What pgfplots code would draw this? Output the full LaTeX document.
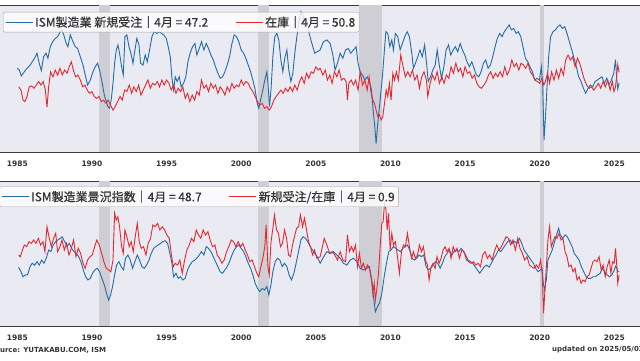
\documentclass[border=0pt]{standalone}
\usepackage{pgfplots}
\pgfplotsset{compat=1.18}
\usepackage{fontspec}
\setmainfont{DejaVu Sans}
\newfontfamily\jp[RawFeature={embolden=0.4}]{Noto Sans CJK JP}
\definecolor{bg}{RGB}{234,234,242}
\definecolor{rec}{RGB}{206,206,212}
\definecolor{sblue}{RGB}{34,108,168}
\definecolor{sred}{RGB}{228,40,48}
\definecolor{txt}{RGB}{51,51,51}
\definecolor{spine}{RGB}{60,60,60}
\pgfplotsset{
  base/.style={scale only axis, width=680pt, xmin=1982.50, xmax=2028.06,
    axis background/.style={fill=bg},
    axis line style={spine, line width=1pt},
    axis x line*=box, axis y line=none,
    xtick={1985,1990,1995,2000,2005,2010,2015,2020,2025},
    ytick=\empty,
    major tick length=0pt,
    xticklabel style={font=\fontsize{7.5}{8}\selectfont\bfseries, text=txt, /pgf/number format/1000 sep={}, yshift=-5pt},
    /pgf/number format/assume math mode=true,
    legend style={draw=gray!70, fill=white, fill opacity=0.8, text opacity=1, rounded corners=2pt,
      font=\jp\fontsize{12}{14}\selectfont, text=txt, legend columns=2, inner xsep=2pt, inner ysep=2pt,
      /tikz/every even column/.append style={column sep=25pt}},
    legend image code/.code={\draw[#1, line width=1pt, sharp corners] (0pt,0pt) -- (22pt,0pt); \path (0pt,0pt) -- (27pt,0pt);},
  },
  blu/.style={sblue, line width=0.9pt},
  rd/.style={sred, line width=0.9pt},
}
\begin{document}
\begin{tikzpicture}
\useasboundingbox (0,0) rectangle (640pt,360pt);
\clip (0,0) rectangle (640pt,360pt);
% ---------------- top panel ----------------
\begin{axis}[base, at={(-20pt,208pt)}, anchor=south west, height=147pt, ymin=23.81, ymax=73.64,
  legend style={at={(0.558,0.953)}, anchor=north east}]
\addplot[fill=rec, draw=none, forget plot] coordinates {(1990.47,23.81) (1990.47,73.64) (1991.21,73.64) (1991.21,23.81)} -- cycle;
\addplot[fill=rec, draw=none, forget plot] coordinates {(2001.13,23.81) (2001.13,73.64) (2001.86,73.64) (2001.86,23.81)} -- cycle;
\addplot[fill=rec, draw=none, forget plot] coordinates {(2007.89,23.81) (2007.89,73.64) (2009.43,73.64) (2009.43,23.81)} -- cycle;
\addplot[fill=rec, draw=none, forget plot] coordinates {(2020.04,23.81) (2020.04,73.64) (2020.27,73.64) (2020.27,23.81)} -- cycle;
\addplot[blu] coordinates {
(1985.00,52.2)(1985.13,51.6)(1985.27,49.6)(1985.47,51.0)(1985.65,52.2)(1985.87,53.3)(1986.00,54.4)(1986.16,55.6)(1986.32,57.3)(1986.47,53.9)(1986.61,51.4)(1986.76,56.1)(1986.92,57.3)(1987.05,55.6)(1987.21,59.5)(1987.37,61.2)(1987.54,62.3)(1987.70,62.9)(1987.88,64.6)(1987.99,65.2)(1988.15,62.9)(1988.28,60.6)(1988.39,59.5)(1988.55,63.5)(1988.73,61.2)(1988.88,59.5)(1989.04,58.9)(1989.22,56.1)(1989.40,53.3)(1989.55,49.9)(1989.71,46.5)(1989.89,48.2)(1990.07,51.0)(1990.22,52.7)(1990.38,53.9)(1990.51,51.6)(1990.67,47.7)(1990.83,43.1)(1990.96,40.9)(1991.07,39.2)(1991.18,38.6)(1991.29,41.4)(1991.41,47.1)(1991.52,53.9)(1991.63,58.4)(1991.74,60.1)(1991.85,57.3)(1991.99,52.7)(1992.10,49.9)(1992.21,62.9)(1992.34,63.5)(1992.48,59.5)(1992.61,57.3)(1992.75,53.9)(1992.88,58.4)(1993.01,62.3)(1993.15,60.1)(1993.26,53.9)(1993.42,53.3)(1993.57,56.7)(1993.71,54.4)(1993.86,58.4)(1994.02,62.9)(1994.17,64.6)(1994.35,64.0)(1994.51,64.6)(1994.67,64.0)(1994.82,63.5)(1994.98,62.3)(1995.11,59.5)(1995.25,56.1)(1995.36,48.8)(1995.47,44.8)(1995.58,49.3)(1995.71,47.7)(1995.85,49.3)(1995.98,45.9)(1996.14,47.1)(1996.29,49.3)(1996.43,54.4)(1996.58,57.3)(1996.74,59.5)(1996.90,60.6)(1997.03,56.7)(1997.19,58.9)(1997.34,61.2)(1997.50,58.4)(1997.66,60.6)(1997.81,58.9)(1997.97,56.7)(1998.13,55.0)(1998.28,52.7)(1998.44,50.5)(1998.59,48.8)(1998.75,49.3)(1998.91,51.0)(1999.06,53.3)(1999.22,56.1)(1999.38,60.6)(1999.53,63.5)(1999.69,62.9)(1999.84,61.2)(2000.00,58.4)(2000.16,57.3)(2000.31,55.6)(2000.47,53.3)(2000.63,51.0)(2000.78,48.2)(2000.94,44.8)(2001.07,40.3)(2001.18,38.6)(2001.32,42.0)(2001.45,44.8)(2001.58,48.2)(2001.72,51.0)(2001.81,45.9)(2001.90,39.2)(2002.01,45.9)(2002.12,56.1)(2002.25,62.9)(2002.39,64.0)(2002.52,61.8)(2002.66,55.0)(2002.79,51.0)(2002.92,55.6)(2003.06,58.4)(2003.19,51.6)(2003.33,47.7)(2003.46,50.5)(2003.59,57.3)(2003.73,62.9)(2003.86,67.4)(2004.00,71.4)(2004.13,70.3)(2004.26,66.3)(2004.40,68.6)(2004.53,64.6)(2004.67,61.8)(2004.80,59.5)(2004.93,57.3)
(2005.29,58.4)(2005.51,61.2)(2005.74,61.8)(2005.96,60.6)(2006.14,56.7)(2006.29,51.6)(2006.45,53.9)(2006.63,57.3)(2006.81,55.6)(2006.99,58.4)(2007.17,58.9)(2007.34,57.3)(2007.52,58.4)(2007.70,59.5)(2007.83,53.9)(2007.97,51.0)(2008.13,49.9)(2008.28,48.2)(2008.44,49.3)(2008.59,47.7)(2008.73,44.8)(2008.84,38.0)(2008.95,32.4)(2009.04,26.7)(2009.13,32.4)(2009.24,38.0)(2009.35,43.7)(2009.46,49.3)(2009.58,57.3)(2009.69,64.6)(2009.82,64.0)(2009.96,59.5)(2010.09,61.8)(2010.20,58.4)(2010.33,64.0)(2010.49,62.9)(2010.65,58.4)(2010.80,60.6)(2010.96,62.9)(2011.12,64.6)(2011.27,62.9)(2011.43,57.3)(2011.54,52.2)(2011.67,53.9)(2011.83,56.1)(2011.98,58.4)(2012.13,56.1)(2012.29,60.1)(2012.42,53.9)(2012.53,47.7)(2012.68,49.3)(2012.84,51.6)(2013.00,53.3)(2013.13,58.4)(2013.27,53.3)(2013.42,48.8)(2013.58,52.7)(2013.73,58.4)(2013.89,60.1)(2014.04,56.7)(2014.20,58.4)(2014.35,59.5)(2014.51,57.8)(2014.67,60.6)(2014.82,58.4)(2014.98,56.7)(2015.13,54.4)(2015.29,52.7)(2015.45,54.4)(2015.60,52.2)(2015.76,49.9)(2015.92,49.3)(2016.07,51.0)(2016.23,53.9)(2016.38,55.0)(2016.54,52.2)(2016.70,53.3)(2016.85,56.1)(2017.01,59.5)(2017.16,62.3)(2017.32,64.0)(2017.48,62.9)(2017.63,64.6)(2017.79,65.7)(2017.95,66.9)(2018.10,65.2)(2018.26,65.7)(2018.42,64.0)(2018.57,64.6)(2018.73,62.9)(2018.88,59.5)(2019.04,55.6)(2019.20,54.4)(2019.35,52.7)(2019.51,51.0)(2019.67,48.2)(2019.82,48.8)(2019.98,48.2)(2020.11,52.7)(2020.20,46.5)(2020.29,27.9)(2020.40,36.9)(2020.49,45.9)(2020.60,56.1)(2020.73,62.9)(2020.89,64.6)(2021.05,65.2)(2021.21,66.3)(2021.36,66.9)(2021.52,65.7)(2021.68,66.3)(2021.83,64.0)(2021.99,61.2)(2022.15,58.4)(2022.30,55.6)(2022.46,52.7)(2022.61,49.3)(2022.77,47.7)(2022.93,45.4)(2023.08,43.7)(2023.24,45.4)(2023.39,46.5)(2023.55,45.9)(2023.71,47.7)(2023.86,48.2)(2024.02,48.8)(2024.17,49.3)(2024.33,47.1)(2024.49,48.8)(2024.64,46.5)(2024.80,48.2)(2024.96,50.5)(2025.08,55.1)(2025.16,48.6)(2025.23,45.2)(2025.32,47.2)
};
\addlegendentry{ISM製造業 新規受注｜4月 = 47.2}
\addplot[rd] coordinates {
(1985.09,45.9)(1985.25,44.8)(1985.38,41.4)(1985.51,40.9)(1985.65,42.6)(1985.80,45.9)(1985.96,46.2)(1986.12,45.4)(1986.27,46.5)(1986.43,47.7)(1986.58,46.5)(1986.74,47.7)(1986.88,44.8)(1986.99,39.0)(1987.10,45.9)(1987.23,51.0)(1987.39,49.3)(1987.54,51.6)(1987.70,49.9)(1987.86,52.2)(1988.01,49.9)(1988.17,51.6)(1988.33,50.5)(1988.48,52.7)(1988.62,54.4)(1988.75,51.6)(1988.91,49.3)(1989.06,49.9)(1989.22,48.2)(1989.38,45.9)(1989.53,46.5)(1989.69,44.8)(1989.84,43.7)(1990.00,44.3)(1990.16,42.6)(1990.31,42.0)(1990.47,42.6)(1990.63,40.9)(1990.78,41.4)(1990.94,40.3)(1991.09,41.4)(1991.25,39.7)(1991.41,38.0)(1991.56,39.2)(1991.72,40.9)(1991.88,42.6)(1992.03,41.4)(1992.19,44.8)(1992.34,44.3)(1992.50,46.5)(1992.66,43.7)(1992.81,45.9)(1992.97,44.3)(1993.13,46.5)(1993.28,43.1)(1993.44,44.8)(1993.59,46.5)(1993.75,48.2)(1993.91,45.4)(1994.06,47.1)(1994.22,46.5)(1994.38,47.7)(1994.53,45.9)(1994.69,48.2)(1994.84,46.5)(1995.00,48.2)(1995.16,47.1)(1995.31,44.8)(1995.47,46.5)(1995.63,43.7)(1995.78,45.4)(1995.94,44.3)(1996.09,45.9)(1996.25,42.0)(1996.41,43.7)(1996.56,40.9)(1996.72,43.1)(1996.88,41.4)(1997.03,44.3)(1997.19,43.1)(1997.34,48.2)(1997.50,45.4)(1997.66,46.5)(1997.81,44.3)(1997.97,47.1)(1998.13,45.4)(1998.28,46.5)(1998.44,43.7)(1998.59,45.9)(1998.75,44.8)(1998.91,43.1)(1999.06,45.9)(1999.22,44.3)(1999.38,47.1)(1999.53,45.4)(1999.69,46.5)(1999.84,45.9)(2000.00,48.2)(2000.16,46.5)(2000.31,47.7)(2000.47,47.1)(2000.63,45.4)(2000.78,44.3)(2000.94,42.6)(2001.09,40.9)(2001.25,39.7)(2001.41,40.3)(2001.56,38.6)(2001.72,39.2)(2001.88,38.0)(2002.03,39.2)(2002.19,41.4)(2002.34,42.6)(2002.50,43.7)(2002.66,44.8)(2002.81,43.7)(2002.97,45.4)(2003.13,44.3)(2003.28,45.9)(2003.44,44.3)(2003.59,46.5)(2003.75,44.8)(2003.91,47.7)(2004.06,49.3)(2004.22,47.1)(2004.38,50.5)(2004.53,48.8)(2004.69,51.0)(2004.84,50.5)(2005.00,52.7)(2005.16,51.6)
(2005.29,52.2)(2005.47,49.9)(2005.63,51.6)(2005.78,48.2)(2005.94,49.9)(2006.09,47.1)(2006.25,51.0)(2006.41,49.3)(2006.56,51.6)(2006.72,48.2)(2006.88,48.8)(2007.03,47.7)(2007.12,41.4)(2007.21,47.1)(2007.37,48.2)(2007.52,46.5)(2007.67,48.2)(2007.83,44.8)(2007.97,51.0)(2008.13,46.5)(2008.28,48.2)(2008.44,44.8)(2008.57,49.3)(2008.71,43.7)(2008.82,41.4)(2008.93,40.3)(2009.04,38.0)(2009.15,35.8)(2009.26,36.4)(2009.38,34.7)(2009.49,35.8)(2009.60,40.3)(2009.71,44.8)(2009.82,42.6)(2009.93,47.1)(2010.04,41.4)(2010.16,50.5)(2010.27,48.2)(2010.40,51.0)(2010.53,48.2)(2010.69,56.7)(2010.85,52.7)(2011.00,49.3)(2011.16,51.0)(2011.32,49.3)(2011.47,51.6)(2011.63,48.2)(2011.79,49.9)(2011.94,45.4)(2012.10,49.3)(2012.25,51.0)(2012.41,48.2)(2012.50,42.6)(2012.66,47.1)(2012.81,49.9)(2012.97,48.2)(2013.13,51.0)(2013.28,47.1)(2013.44,49.3)(2013.59,47.1)(2013.75,49.9)(2013.91,48.8)(2014.06,52.7)(2014.22,50.5)(2014.38,53.9)(2014.54,51.0)(2014.69,52.2)(2014.85,49.3)(2015.00,52.7)(2015.16,50.5)(2015.32,51.0)(2015.47,48.8)(2015.63,49.9)(2015.79,47.1)(2015.94,45.9)(2016.10,45.4)(2016.26,46.5)(2016.41,47.7)(2016.57,49.9)(2016.72,51.0)(2016.88,48.8)(2017.04,50.5)(2017.19,49.3)(2017.35,51.0)(2017.51,49.3)(2017.66,52.7)(2017.82,49.9)(2017.98,51.6)(2018.13,55.0)(2018.29,52.7)(2018.44,53.9)(2018.60,51.6)(2018.75,53.9)(2018.91,53.3)(2019.06,52.2)(2019.22,53.9)(2019.37,51.0)(2019.53,49.9)(2019.69,48.2)(2019.84,47.7)(2020.00,47.1)(2020.16,48.8)(2020.27,46.5)(2020.38,47.7)(2020.52,50.5)(2020.66,47.1)(2020.80,51.0)(2020.96,48.2)(2021.12,51.6)(2021.27,48.8)(2021.43,52.2)(2021.59,49.9)(2021.74,55.0)(2021.90,56.7)(2022.06,55.0)(2022.21,56.1)(2022.37,52.7)(2022.53,55.6)(2022.68,53.9)(2022.84,51.0)(2023.00,48.2)(2023.15,46.5)(2023.31,45.4)(2023.47,45.9)(2023.62,44.8)(2023.78,45.9)(2023.93,47.1)(2024.09,45.4)(2024.25,47.7)(2024.40,45.9)(2024.56,48.2)(2024.72,44.8)(2024.87,47.7)(2024.98,44.3)(2025.08,45.9)(2025.16,49.9)(2025.23,53.4)(2025.32,50.8)
};
\addlegendentry{在庫｜4月 = 50.8}
\end{axis}
% ---------------- bottom panel, PMI ----------------
\begin{axis}[base, at={(-20pt,34pt)}, anchor=south west, height=145pt, ymin=28.32, ymax=83.04]
\addplot[fill=rec, draw=none, forget plot] coordinates {(1990.47,28.32) (1990.47,83.04) (1991.21,83.04) (1991.21,28.32)} -- cycle;
\addplot[fill=rec, draw=none, forget plot] coordinates {(2001.13,28.32) (2001.13,83.04) (2001.86,83.04) (2001.86,28.32)} -- cycle;
\addplot[fill=rec, draw=none, forget plot] coordinates {(2007.89,28.32) (2007.89,83.04) (2009.43,83.04) (2009.43,28.32)} -- cycle;
\addplot[fill=rec, draw=none, forget plot] coordinates {(2020.04,28.32) (2020.04,83.04) (2020.27,83.04) (2020.27,28.32)} -- cycle;
\addplot[blu] coordinates {
(1985.09,50.5)(1985.25,48.8)(1985.38,46.9)(1985.54,47.6)(1985.69,47.6)(1985.85,50.7)(1986.00,52.0)(1986.16,51.3)(1986.32,52.6)(1986.47,51.3)(1986.63,53.2)(1986.79,52.0)(1986.94,53.9)(1987.10,57.0)(1987.25,56.4)(1987.41,58.9)(1987.57,60.2)(1987.72,60.8)(1987.88,61.4)(1988.01,62.0)(1988.17,60.2)(1988.33,58.3)(1988.48,59.5)(1988.64,57.6)(1988.80,56.4)(1988.95,55.7)(1989.11,54.5)(1989.26,52.6)(1989.42,49.5)(1989.58,46.9)(1989.73,45.7)(1989.89,46.3)(1990.04,48.2)(1990.20,49.5)(1990.36,50.1)(1990.51,48.8)(1990.67,46.3)(1990.83,43.8)(1990.98,40.6)(1991.12,38.1)(1991.25,40.0)(1991.38,43.2)(1991.52,47.6)(1991.65,51.3)(1991.81,52.6)(1991.96,50.7)(1992.12,49.5)(1992.25,53.9)(1992.41,55.1)(1992.57,53.2)(1992.72,50.1)(1992.88,52.6)(1993.04,55.1)(1993.19,53.2)(1993.35,50.7)(1993.50,50.1)(1993.66,51.3)(1993.82,53.2)(1993.97,55.7)(1994.13,57.6)(1994.29,58.3)(1994.44,58.9)(1994.60,59.5)(1994.76,60.2)(1994.91,60.5)(1995.07,59.5)(1995.22,55.7)(1995.36,52.0)(1995.47,46.9)(1995.63,48.2)(1995.78,46.3)(1995.94,46.9)(1996.09,45.7)(1996.25,46.3)(1996.41,49.5)(1996.56,51.3)(1996.72,52.6)(1996.88,53.2)(1997.03,53.9)(1997.19,55.1)(1997.34,56.4)(1997.50,55.1)(1997.66,58.3)(1997.81,57.6)(1997.97,56.4)(1998.13,54.5)(1998.28,52.6)(1998.44,50.7)(1998.59,48.8)(1998.75,48.2)(1998.91,49.5)(1999.06,50.7)(1999.22,52.6)(1999.38,55.1)(1999.53,57.0)(1999.69,58.3)(1999.84,58.9)(2000.00,57.6)(2000.16,56.4)(2000.31,54.5)(2000.47,52.0)(2000.63,50.1)(2000.78,47.6)(2000.94,44.4)(2001.09,42.5)(2001.25,41.3)(2001.41,42.5)(2001.56,41.9)(2001.72,43.2)(2001.85,40.0)(2001.99,43.8)(2002.12,48.8)(2002.28,52.6)(2002.43,53.9)(2002.59,53.2)(2002.75,50.7)(2002.90,52.0)(2003.06,50.7)(2003.21,47.6)(2003.37,45.7)(2003.53,48.2)(2003.68,52.0)(2003.84,56.4)(2004.00,60.8)(2004.15,62.0)(2004.31,61.4)(2004.46,60.2)(2004.62,58.3)(2004.78,57.0)(2004.93,55.7)(2005.09,54.5)
(2005.29,52.0)(2005.51,54.3)(2005.74,56.4)(2005.96,55.7)(2006.18,56.4)(2006.41,55.1)(2006.63,53.9)(2006.85,52.0)(2007.08,51.3)(2007.30,53.2)(2007.52,53.9)(2007.75,52.6)(2007.97,50.1)(2008.19,49.5)(2008.42,50.1)(2008.59,50.7)(2008.75,45.7)(2008.86,39.4)(2008.99,33.7)(2009.13,35.6)(2009.26,36.9)(2009.42,40.6)(2009.58,46.9)(2009.73,52.0)(2009.89,56.4)(2010.04,57.0)(2010.20,58.3)(2010.36,57.6)(2010.51,57.0)(2010.67,56.4)(2010.83,57.6)(2010.98,58.3)(2011.13,58.9)(2011.29,57.0)(2011.45,53.9)(2011.60,53.2)(2011.76,53.9)(2011.92,55.1)(2012.08,54.5)(2012.23,55.1)(2012.39,50.7)(2012.54,49.5)(2012.70,50.1)(2012.86,51.3)(2013.01,52.6)(2013.17,52.0)(2013.33,50.1)(2013.48,52.0)(2013.64,54.5)(2013.79,55.7)(2013.95,57.0)(2014.11,55.1)(2014.26,56.4)(2014.42,57.0)(2014.58,56.4)(2014.73,57.6)(2014.89,56.4)(2015.04,55.1)(2015.20,53.2)(2015.36,52.6)(2015.51,52.0)(2015.67,50.7)(2015.82,49.5)(2015.98,48.2)(2016.14,49.5)(2016.29,50.7)(2016.45,51.3)(2016.61,50.5)(2016.76,52.0)(2016.92,53.9)(2017.07,55.1)(2017.23,57.0)(2017.39,56.4)(2017.54,57.6)(2017.70,58.9)(2017.86,60.2)(2018.01,60.8)(2018.17,59.5)(2018.33,60.2)(2018.48,59.5)(2018.64,61.4)(2018.80,59.5)(2018.95,57.0)(2019.11,55.7)(2019.26,54.5)(2019.42,53.2)(2019.58,52.0)(2019.73,50.1)(2019.89,48.8)(2020.04,49.5)(2020.15,50.1)(2020.24,44.4)(2020.33,41.9)(2020.44,45.7)(2020.55,53.2)(2020.69,55.1)(2020.84,57.0)(2021.00,60.2)(2021.16,63.3)(2021.27,65.2)(2021.38,62.7)(2021.54,61.4)(2021.70,62.7)(2021.85,62.0)(2022.01,60.2)(2022.17,58.3)(2022.32,55.7)(2022.48,54.5)(2022.64,53.2)(2022.79,50.7)(2022.95,48.8)(2023.11,46.9)(2023.26,46.3)(2023.42,46.3)(2023.58,46.9)(2023.73,46.9)(2023.89,47.6)(2024.05,48.2)(2024.20,50.1)(2024.36,48.8)(2024.52,47.6)(2024.67,46.9)(2024.83,47.6)(2024.99,49.3)(2025.08,50.9)(2025.16,50.3)(2025.23,49.0)(2025.32,48.7)
};
\end{axis}
% ---------------- bottom panel, ratio ----------------
\begin{axis}[base, at={(-20pt,34pt)}, anchor=south west, height=145pt, ymin=0.416, ymax=1.866,
  axis background/.style={}, hide axis,
  legend style={at={(0.616,0.962)}, anchor=north east}]
\addlegendimage{blu}
\addlegendentry{ISM製造業景況指数｜4月 = 48.7}
\addplot[rd] coordinates {
(1985.09,1.126)(1985.20,1.109)(1985.31,1.159)(1985.47,1.226)(1985.63,1.209)(1985.78,1.259)(1985.94,1.243)(1986.09,1.276)(1986.25,1.243)(1986.41,1.293)(1986.56,1.226)(1986.72,1.259)(1986.85,1.159)(1986.99,1.409)(1987.12,1.309)(1987.28,1.209)(1987.43,1.293)(1987.57,1.343)(1987.70,1.159)(1987.86,1.209)(1987.99,1.276)(1988.15,1.176)(1988.30,1.243)(1988.46,1.126)(1988.62,1.193)(1988.77,1.276)(1988.93,1.109)(1989.08,1.193)(1989.24,1.143)(1989.40,1.043)(1989.55,0.993)(1989.71,1.076)(1989.87,1.109)(1990.02,1.126)(1990.18,1.209)(1990.33,1.276)(1990.49,1.226)(1990.65,1.143)(1990.80,1.059)(1990.96,0.993)(1991.12,0.976)(1991.27,0.959)(1991.41,1.076)(1991.52,1.543)(1991.63,1.476)(1991.74,1.509)(1991.85,1.409)(1991.99,1.209)(1992.10,1.143)(1992.21,1.376)(1992.34,1.309)(1992.50,1.209)(1992.63,1.259)(1992.77,1.159)(1992.90,1.309)(1993.04,1.443)(1993.17,1.259)(1993.30,1.193)(1993.46,1.209)(1993.62,1.126)(1993.77,1.243)(1993.93,1.293)(1994.08,1.426)(1994.24,1.409)(1994.40,1.443)(1994.55,1.376)(1994.71,1.409)(1994.87,1.376)(1995.02,1.326)(1995.18,1.293)(1995.31,1.143)(1995.45,1.009)(1995.58,1.043)(1995.74,1.026)(1995.89,1.076)(1996.05,0.943)(1996.21,1.076)(1996.36,1.176)(1996.52,1.226)(1996.67,1.293)(1996.83,1.259)(1996.99,1.376)(1997.14,1.326)(1997.30,1.293)(1997.45,1.376)(1997.61,1.326)(1997.77,1.359)(1997.92,1.276)(1998.08,1.209)(1998.24,1.226)(1998.39,1.126)(1998.55,1.093)(1998.71,1.043)(1998.86,1.076)(1999.02,1.159)(1999.17,1.209)(1999.33,1.276)(1999.49,1.259)(1999.64,1.209)(1999.80,1.259)(1999.96,1.209)(2000.11,1.243)(2000.27,1.176)(2000.42,1.126)(2000.58,1.059)(2000.74,1.076)(2000.89,1.009)(2001.05,0.943)(2001.18,0.909)(2001.32,1.009)(2001.45,1.093)(2001.58,1.209)(2001.67,1.426)(2001.79,1.009)(2001.88,0.926)(2001.99,1.243)(2002.12,1.393)(2002.23,1.526)(2002.37,1.376)(2002.50,1.343)(2002.63,1.209)(2002.77,1.243)(2002.90,1.376)(2003.04,1.293)(2003.17,1.126)(2003.30,1.109)(2003.44,1.226)(2003.57,1.309)(2003.71,1.393)(2003.84,1.409)(2003.97,1.526)(2004.11,1.409)(2004.24,1.493)(2004.38,1.376)(2004.51,1.259)(2004.64,1.209)(2004.78,1.126)(2004.91,1.176)(2005.07,1.093)
(2005.29,1.109)(2005.42,1.193)(2005.56,1.293)(2005.74,1.226)(2005.92,1.143)(2006.09,1.159)(2006.27,1.126)(2006.45,1.076)(2006.63,1.159)(2006.81,1.076)(2006.99,1.059)(2007.12,1.326)(2007.25,1.159)(2007.39,1.209)(2007.52,1.159)(2007.66,1.226)(2007.79,1.009)(2007.92,1.143)(2008.06,0.993)(2008.19,1.043)(2008.33,0.976)(2008.46,1.026)(2008.59,0.993)(2008.73,0.876)(2008.82,0.743)(2008.91,0.843)(2008.99,0.676)(2009.08,0.776)(2009.20,0.943)(2009.31,1.209)(2009.42,1.443)(2009.51,1.459)(2009.60,1.643)(2009.69,1.593)(2009.78,1.376)(2009.87,1.543)(2009.98,1.176)(2010.09,1.343)(2010.20,1.226)(2010.33,1.259)(2010.47,1.109)(2010.60,0.943)(2010.74,1.159)(2010.87,1.226)(2011.00,1.209)(2011.14,1.343)(2011.27,1.209)(2011.41,1.093)(2011.54,1.159)(2011.67,1.093)(2011.81,1.126)(2011.94,1.226)(2012.08,1.159)(2012.21,1.209)(2012.34,1.076)(2012.48,1.026)(2012.59,0.876)(2012.72,1.009)(2012.86,1.043)(2012.99,0.993)(2013.12,1.109)(2013.26,1.043)(2013.39,1.093)(2013.53,1.176)(2013.66,1.209)(2013.79,1.159)(2013.93,1.193)(2014.06,1.093)(2014.20,1.209)(2014.33,1.159)(2014.46,1.193)(2014.62,1.093)(2014.78,1.176)(2014.93,1.159)(2015.09,1.076)(2015.25,1.059)(2015.40,1.043)(2015.56,1.059)(2015.72,1.026)(2015.87,1.043)(2016.03,1.009)(2016.18,1.126)(2016.34,1.159)(2016.50,1.093)(2016.65,1.126)(2016.81,1.076)(2016.96,1.159)(2017.12,1.226)(2017.28,1.176)(2017.43,1.209)(2017.59,1.259)(2017.75,1.309)(2017.90,1.293)(2018.06,1.226)(2018.21,1.276)(2018.37,1.176)(2018.53,1.293)(2018.68,1.193)(2018.84,1.143)(2018.99,1.076)(2019.15,1.109)(2019.31,1.026)(2019.46,1.009)(2019.62,0.993)(2019.78,1.026)(2019.93,0.993)(2020.06,1.076)(2020.17,0.943)(2020.26,0.543)(2020.35,0.776)(2020.46,1.043)(2020.55,1.276)(2020.66,1.409)(2020.78,1.209)(2020.89,1.259)(2021.02,1.309)(2021.16,1.293)(2021.29,1.343)(2021.43,1.276)(2021.56,1.293)(2021.70,1.159)(2021.83,1.109)(2021.96,1.009)(2022.10,1.026)(2022.23,0.959)(2022.37,0.993)(2022.50,0.876)(2022.64,0.909)(2022.77,0.843)(2022.90,0.876)(2023.04,0.859)(2023.17,0.909)(2023.31,0.926)(2023.44,0.993)(2023.57,1.059)(2023.71,1.076)(2023.84,1.059)(2023.98,1.109)(2024.12,0.976)(2024.25,1.026)(2024.39,0.909)(2024.52,1.009)(2024.66,1.076)(2024.77,0.943)(2024.88,1.059)(2024.99,1.043)(2025.08,1.193)(2025.16,1.026)(2025.23,0.843)(2025.32,0.926)
};
\addlegendentry{新規受注/在庫｜4月 = 0.9}
\end{axis}
\node[anchor=west, inner sep=0pt, text=txt, font=\fontsize{7}{8}\selectfont\bfseries] at (-10pt,10pt) {Source: YUTAKABU.COM, ISM};
\node[anchor=west, inner sep=0pt, text=txt, font=\fontsize{7}{8}\selectfont\bfseries] at (552pt,10pt) {updated on 2025/05/02};
\end{tikzpicture}
\end{document}
